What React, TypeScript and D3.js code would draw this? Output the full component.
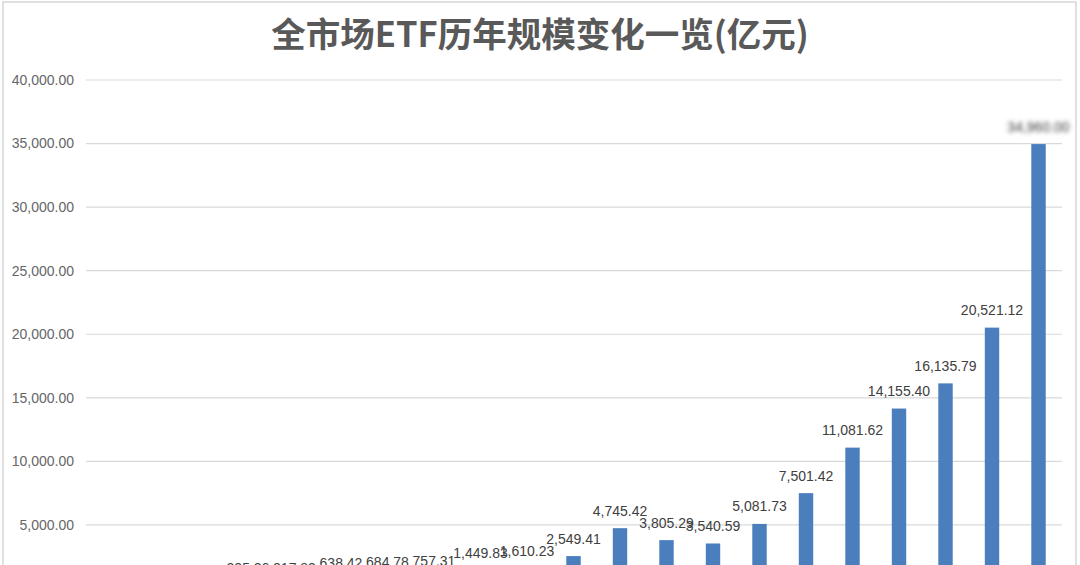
import React, { useEffect, useRef } from 'react';
import * as d3 from 'd3';

// 年份(类目) & 规模(亿元)
const years = [
  '2004', '2005', '2006', '2007', '2008', '2009', '2010', '2011', '2012', '2013', '2014',
  '2015', '2016', '2017', '2018', '2019', '2020', '2021', '2022', '2023', '2024',
];
const sizes = [
  51.05, 83.8, 109.48, 205.26, 217.83, 638.42, 684.78, 757.31, 1449.83, 1610.23, 2549.41,
  4745.42, 3805.29, 3540.59, 5081.73, 7501.42, 11081.62, 14155.4, 16135.79, 20521.12, 34960.0,
];
const yTicks = [5000, 10000, 15000, 20000, 25000, 30000, 35000, 40000];

const W = 1080;
const H = 565;

const App: React.FC = () => {
  const svgRef = useRef<SVGSVGElement>(null);

  useEffect(() => {
    if (!svgRef.current) return;
    const svg = d3.select(svgRef.current);
    svg.selectAll('*').remove();

    const font = "'Liberation Sans', Arial, sans-serif";

    // 外框
    svg.append('rect')
      .attr('x', 3).attr('y', 2)
      .attr('width', 1073).attr('height', 600)
      .attr('fill', '#fff')
      .attr('stroke', '#d6d6d6')
      .attr('stroke-width', 1.5);

    // 模糊标签用
    const defs = svg.append('defs');
    defs.append('filter').attr('id', 'blur')
      .attr('x', '-20%').attr('y', '-50%').attr('width', '140%').attr('height', '200%')
      .append('feGaussianBlur').attr('stdDeviation', 2.2);

    // 标题
    svg.append('text')
      .attr('x', 540).attr('y', 47)
      .attr('text-anchor', 'middle')
      .style('font-family', "'Noto Sans CJK SC', sans-serif")
      .style('font-size', '34.5px')
      .style('font-weight', 700)
      .style('fill', '#595959')
      .text('全市场ETF历年规模变化一览(亿元)');

    const x = d3.scaleBand<string>()
      .domain(years)
      .range([85, 1062])
      .paddingInner(0.69)
      .paddingOuter(0.35);

    const y = d3.scaleLinear()
      .domain([0, 40000])
      .range([588.5, 80]);

    // 网格线 + 纵轴标签
    const grid = svg.append('g');
    yTicks.forEach((t) => {
      grid.append('line')
        .attr('x1', 86).attr('x2', 1062)
        .attr('y1', y(t)).attr('y2', y(t))
        .attr('stroke', '#d9d9d9')
        .attr('stroke-width', 1.2);
      grid.append('text')
        .attr('x', 74).attr('y', y(t))
        .attr('dy', '0.35em')
        .attr('text-anchor', 'end')
        .style('font-family', font)
        .style('font-size', '14px')
        .style('fill', '#666')
        .text(d3.format(',.2f')(t));
    });

    // 柱子
    svg.append('g').selectAll('rect')
      .data(sizes)
      .join('rect')
      .attr('x', (_, i) => x(years[i])!)
      .attr('width', x.bandwidth())
      .attr('y', (d) => y(d))
      .attr('height', (d) => y(0) - y(d))
      .attr('fill', '#4a7ebd');

    // 数据标签
    svg.append('g').selectAll('text')
      .data(sizes)
      .join('text')
      .attr('x', (_, i) => x(years[i])! + x.bandwidth() / 2)
      .attr('y', (d) => y(d) - 12.5)
      .attr('text-anchor', 'middle')
      .style('font-family', font)
      .style('font-size', '14px')
      .style('fill', '#404040')
      .attr('filter', (_, i) => (i === sizes.length - 1 ? 'url(#blur)' : null))
      .text((d) => d3.format(',.2f')(d));
  }, []);

  return (
    <svg
      ref={svgRef}
      width={W}
      height={H}
      style={{ position: 'absolute', left: 0, top: 0, background: '#fff' }}
    />
  );
};

export default App;
